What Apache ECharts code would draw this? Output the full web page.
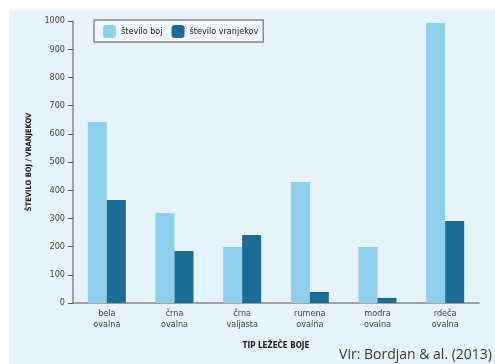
<!DOCTYPE html>
<html><head><meta charset="utf-8">
<script src="https://cdn.jsdelivr.net/npm/echarts@6/dist/echarts.min.js"></script>
<style>html,body{margin:0;padding:0;background:#fff}#c{width:495px;height:364px}</style>
</head><body><div id="c"></div>
<script>
const categories = ['bela\novalna', 'črna\novalna', 'črna\nvaljasta', 'rumena\novalna', 'modra\novalna', 'rdeča\novalna'];
const steviloBoj = [642, 319, 199, 429, 199, 993];
const steviloVranjekov = [365, 184, 241, 39, 18, 291];
const yTicks = [0, 1000, 100];
const F = '"DejaVu Sans Condensed", "Liberation Sans Narrow", sans-serif';
const chart = echarts.init(document.getElementById('c'));
chart.setOption({
  animation: false,
  textStyle: { fontFamily: F },
  graphic: [
    { type: 'rect', z: -10, shape: { x: 9, y: 10, width: 486, height: 354 }, style: { fill: '#e7f3fa' } },
    { type: 'text', right: 3, bottom: 2, style: { text: 'Vir: Bordjan & al. (2013)', font: '14px "Open Sans", sans-serif', fill: '#3a3a3a' } }
  ],
  legend: {
    left: 94, top: 20, itemWidth: 13, itemHeight: 13, itemGap: 9,
    padding: [5, 5, 4, 9],
    borderColor: '#888', borderWidth: 1.5, backgroundColor: '#eef7fb',
    textStyle: { fontSize: 9, color: '#222', fontFamily: F },
    data: ['število boj', 'število vranjekov']
  },
  grid: { left: 73, right: 16, top: 21, bottom: 61, containLabel: false },
  xAxis: {
    type: 'category', data: categories,
    name: 'TIP LEŽEČE BOJE', nameLocation: 'middle', nameGap: 39,
    nameTextStyle: { fontSize: 8, fontWeight: 'bold', color: '#222', fontFamily: F },
    axisLine: { lineStyle: { color: '#888', width: 1.5 } },
    axisTick: { length: 10, lineStyle: { color: '#555', width: 1.2 } },
    axisLabel: { fontSize: 9, color: '#444', margin: 5, lineHeight: 11 }
  },
  yAxis: {
    type: 'value', min: yTicks[0], max: yTicks[1], interval: yTicks[2],
    name: 'ŠTEVILO BOJ / VRANJEKOV', nameLocation: 'middle', nameGap: 37,
    nameTextStyle: { fontSize: 7.5, fontWeight: 'bold', color: '#222', fontFamily: F },
    axisLine: { show: true, lineStyle: { color: '#888', width: 1.5 } },
    axisTick: { show: true, length: 5, lineStyle: { color: '#555' } },
    axisLabel: { fontSize: 9, color: '#444', margin: 8, formatter: v => String(v) },
    splitLine: { show: false }
  },
  series: [
    { name: 'število boj', type: 'bar', data: steviloBoj, barWidth: 19, barGap: '0%', itemStyle: { color: '#8ed0ec' } },
    { name: 'število vranjekov', type: 'bar', data: steviloVranjekov, barWidth: 19, itemStyle: { color: '#1b6b92' } }
  ]
});
</script></body></html>
